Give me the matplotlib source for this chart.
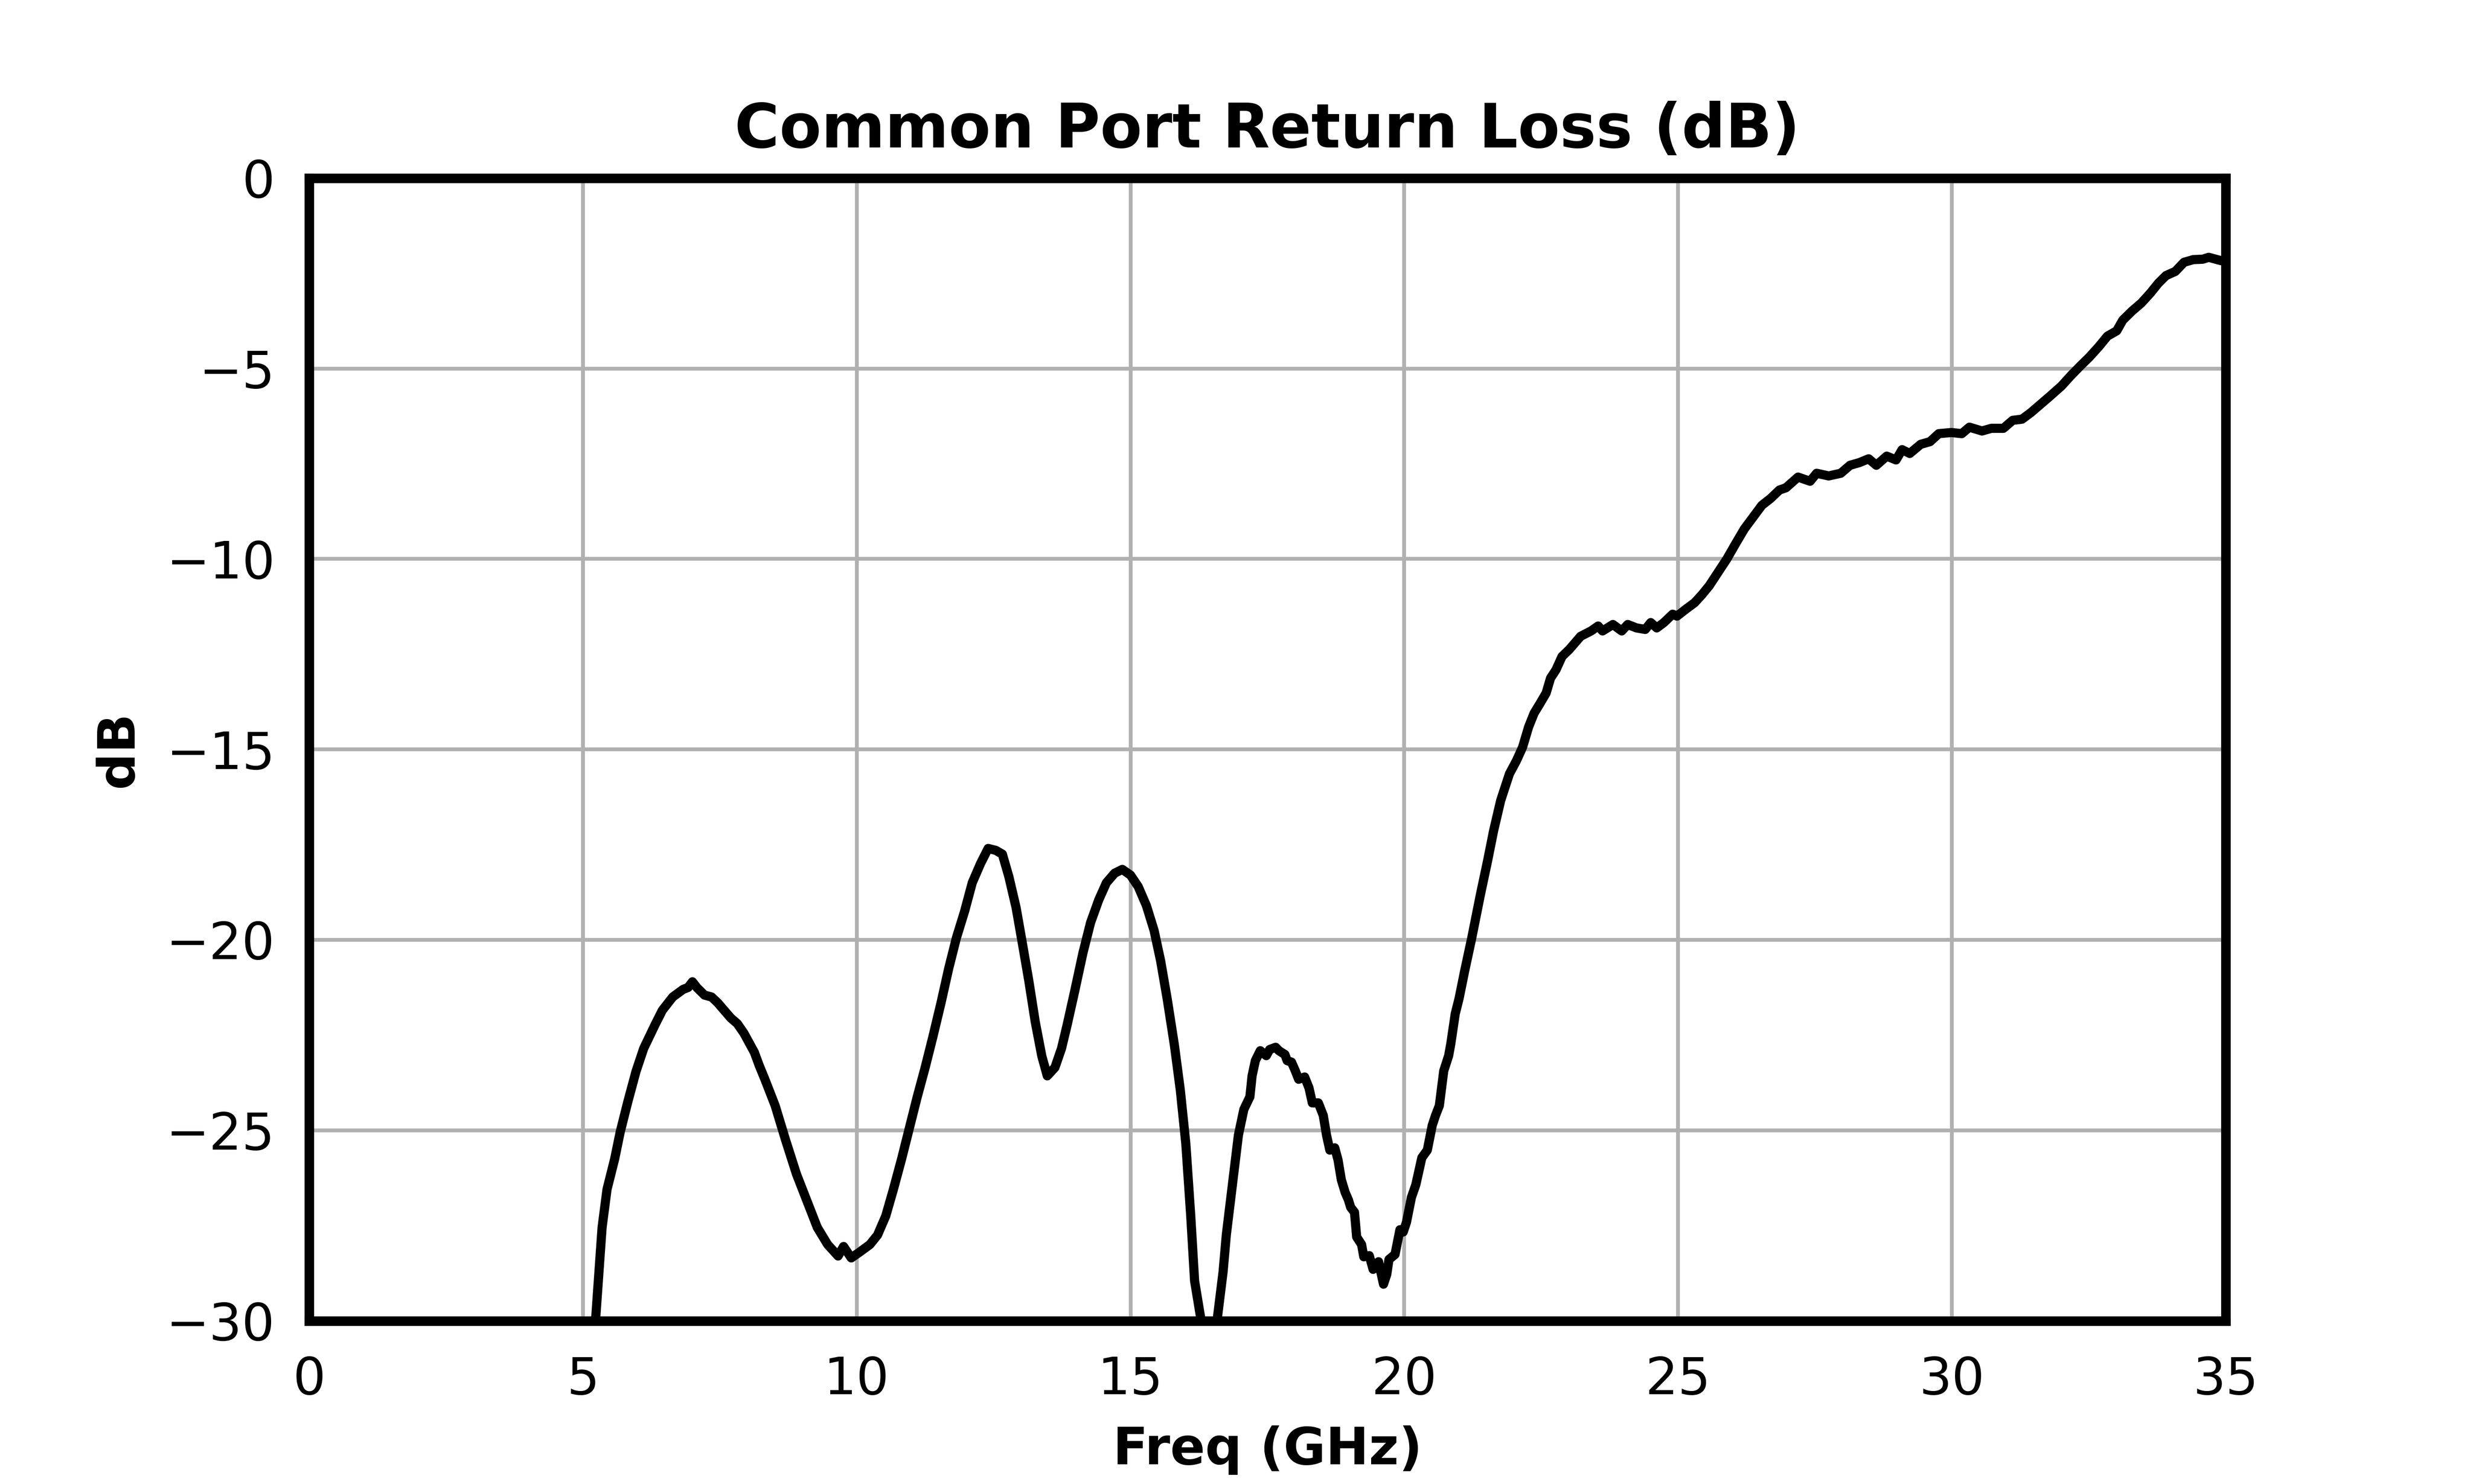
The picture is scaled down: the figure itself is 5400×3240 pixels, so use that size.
import matplotlib
matplotlib.use("Agg")
import matplotlib.pyplot as plt

# === DATA ===
freq_ghz = [
    5.00, 5.23, 5.35, 5.44, 5.58, 5.68, 5.82, 5.97, 6.11, 6.31, 6.45, 6.64,
    6.83, 6.92, 7.00, 7.08, 7.22, 7.35, 7.46, 7.58, 7.70, 7.82, 7.94, 8.13,
    8.22, 8.32, 8.51, 8.70, 8.90, 9.09, 9.28, 9.47, 9.66, 9.76, 9.90, 10.05,
    10.24, 10.38, 10.53, 10.67, 10.82, 10.96, 11.10, 11.25, 11.39, 11.54,
    11.68, 11.82, 11.97, 12.11, 12.26, 12.40, 12.54, 12.66, 12.78, 12.91,
    13.02, 13.14, 13.26, 13.38, 13.48, 13.62, 13.74, 13.84, 13.98, 14.13,
    14.27, 14.42, 14.56, 14.71, 14.85, 15.00, 15.14, 15.29, 15.43, 15.55,
    15.67, 15.80, 15.91, 16.01, 16.10, 16.17, 16.29, 16.43, 16.58, 16.69,
    16.75, 16.86, 16.97, 17.07, 17.18, 17.22, 17.28, 17.37, 17.48, 17.54,
    17.65, 17.71, 17.82, 17.86, 17.94, 18.01, 18.07, 18.18, 18.26, 18.32,
    18.43, 18.52, 18.58, 18.64, 18.73, 18.79, 18.85, 18.92, 18.98, 19.02,
    19.09, 19.13, 19.22, 19.26, 19.36, 19.43, 19.53, 19.62, 19.68, 19.72,
    19.83, 19.92, 19.98, 20.04, 20.13, 20.21, 20.32, 20.42, 20.51, 20.57,
    20.64, 20.72, 20.81, 20.85, 20.93, 21.00, 21.10, 21.23, 21.39, 21.52,
    21.63, 21.76, 21.92, 22.05, 22.16, 22.27, 22.37, 22.48, 22.59, 22.67,
    22.77, 22.88, 23.01, 23.22, 23.41, 23.54, 23.62, 23.81, 23.97, 24.08,
    24.24, 24.40, 24.50, 24.61, 24.74, 24.90, 24.98, 25.14, 25.30, 25.44,
    25.57, 25.73, 25.89, 26.05, 26.21, 26.37, 26.53, 26.69, 26.85, 26.97,
    27.19, 27.41, 27.53, 27.75, 27.97, 28.14, 28.31, 28.48, 28.62, 28.81,
    28.98, 29.09, 29.23, 29.43, 29.60, 29.76, 29.99, 30.18, 30.32, 30.55,
    30.72, 30.94, 31.11, 31.28, 31.44, 31.61, 31.78, 32.00, 32.17, 32.34,
    32.51, 32.68, 32.84, 33.01, 33.12, 33.29, 33.46, 33.63, 33.77, 33.91,
    34.08, 34.24, 34.41, 34.58, 34.69, 34.92, 35.00,
]

return_loss_db = [
    -32.0, -30.0, -27.55, -26.55, -25.75, -25.05, -24.25, -23.45, -22.85,
    -22.25, -21.85, -21.5, -21.3, -21.25, -21.1, -21.25, -21.45, -21.5,
    -21.65, -21.85, -22.05, -22.2, -22.45, -22.95, -23.3, -23.65, -24.35,
    -25.25, -26.15, -26.85, -27.55, -28.0, -28.3, -28.05, -28.35, -28.2,
    -28.0, -27.75, -27.25, -26.55, -25.75, -24.95, -24.15, -23.35, -22.55,
    -21.65, -20.75, -19.95, -19.25, -18.5, -18.0, -17.6, -17.65, -17.75,
    -18.35, -19.15, -20.05, -21.05, -22.15, -23.05, -23.57, -23.35, -22.85,
    -22.25, -21.35, -20.35, -19.55, -18.95, -18.5, -18.25, -18.15, -18.3,
    -18.6, -19.1, -19.75, -20.55, -21.55, -22.75, -23.95, -25.35, -27.25,
    -28.95, -30.0, -31.5, -30.0, -28.72, -27.74, -26.43, -25.13, -24.45,
    -24.12, -23.57, -23.17, -22.91, -23.04, -22.88, -22.82, -22.91, -23.01,
    -23.17, -23.21, -23.44, -23.66, -23.60, -23.89, -24.28, -24.28, -24.61,
    -25.13, -25.52, -25.46, -25.78, -26.30, -26.63, -26.83, -27.02, -27.15,
    -27.80, -28.0, -28.32, -28.29, -28.65, -28.45, -29.04, -28.78, -28.39,
    -28.26, -27.61, -27.67, -27.41, -26.76, -26.43, -25.72, -25.52, -24.87,
    -24.61, -24.35, -23.44, -23.04, -22.72, -21.94, -21.54, -20.83, -19.96,
    -18.81, -17.93, -17.14, -16.34, -15.64, -15.29, -14.94, -14.41, -14.05,
    -13.79, -13.52, -13.13, -12.91, -12.56, -12.38, -12.03, -11.89, -11.76,
    -11.89, -11.72, -11.89, -11.72, -11.81, -11.85, -11.67, -11.81, -11.67,
    -11.45, -11.50, -11.32, -11.15, -10.93, -10.70, -10.35, -10.0, -9.60,
    -9.21, -8.90, -8.59, -8.41, -8.19, -8.13, -7.85, -7.96, -7.75, -7.82,
    -7.75, -7.54, -7.47, -7.37, -7.54, -7.30, -7.40, -7.13, -7.23, -6.99,
    -6.92, -6.71, -6.68, -6.71, -6.54, -6.64, -6.57, -6.57, -6.36, -6.33,
    -6.16, -5.95, -5.74, -5.46, -5.19, -4.94, -4.70, -4.43, -4.15, -4.01,
    -3.73, -3.49, -3.28, -3.01, -2.76, -2.56, -2.45, -2.21, -2.14, -2.13,
    -2.08, -2.17, -2.17,
]

x_ticks = [0, 5, 10, 15, 20, 25, 30, 35]
y_ticks = [-30, -25, -20, -15, -10, -5, 0]

# === PLOT ===
fig, ax = plt.subplots(figsize=(18, 10.8), dpi=300)

ax.plot(freq_ghz, return_loss_db, color="black", linewidth=4.8)

ax.set_xlim(0, 35)
ax.set_ylim(-30, 0)
ax.set_xticks(x_ticks)
ax.set_yticks(y_ticks)
ax.grid(True, color="#b0b0b0", linewidth=2)
ax.set_axisbelow(True)

for spine in ax.spines.values():
    spine.set_linewidth(5)
    spine.set_color("black")

ax.tick_params(axis="both", length=0, pad=18, labelsize=27)

ax.set_title("Common Port Return Loss (dB)", fontsize=32, fontweight="bold", pad=16)
ax.set_xlabel("Freq (GHz)", fontsize=27, fontweight="bold", labelpad=11)
ax.set_ylabel("dB", fontsize=27, fontweight="bold", labelpad=12)

plt.savefig("out.png", dpi=300)
plt.close(fig)
